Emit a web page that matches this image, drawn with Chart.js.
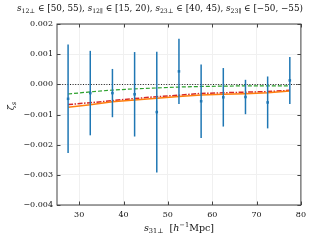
<!DOCTYPE html>
<html>
<head>
<meta charset="utf-8">
<script src="https://cdn.jsdelivr.net/npm/chart.js@4"></script>
<style>
  html, body { margin: 0; padding: 0; background: #fff; }
  #c { display: block; }
</style>
</head>
<body>
<canvas id="c" width="311" height="243"></canvas>
<script>
// bins in s_31perp
const sPerp = [27.5, 32.5, 37.5, 42.5, 47.5, 52.5, 57.5, 62.5, 67.5, 72.5, 77.5];
// measured zeta and 1-sigma errors
const zeta = [-0.00048, -0.00029, -0.00029, -0.00033, -0.00092, 0.00043, -0.00056, -0.00043, -0.00042, -0.0006, 0.00013];
const zetaErr = [0.0018, 0.0014, 0.0008, 0.0014, 0.002, 0.00108, 0.00122, 0.00097, 0.00057, 0.00086, 0.00078];
// model curves
const modelOrange = [-0.00076, -0.00068, -0.00058, -0.00052, -0.00046, -0.0004, -0.00035, -0.00033, -0.00031, -0.00028, -0.00022];
const modelRed = [-0.00067, -0.00061, -0.00054, -0.00047, -0.00041, -0.00036, -0.0003, -0.00028, -0.00026, -0.00024, -0.0002];
const modelGreen = [-0.00032, -0.00025, -0.00019, -0.00015, -0.00012, -0.00009, -0.00007, -0.00006, -0.00005, -0.00005, -0.00005];
const xTicks = [30, 40, 50, 60, 70, 80];
const yTicks = [-0.004, -0.003, -0.002, -0.001, 0, 0.001, 0.002];

const SERIF = '"DejaVu Serif", serif';
const pts = (ys) => sPerp.map((x, i) => ({ x: x, y: ys[i] }));

// draws a list of text runs, some italic, some sub/superscript
function drawRich(ctx, runs, x, y, size, align) {
    const font = (r) => (r.it ? 'italic ' : '') + (r.sub || r.sup ? size * 0.7 : size) + 'px ' + SERIF;
    let w = 0;
    runs.forEach(r => { ctx.font = font(r); w += ctx.measureText(r.t).width; });
    let cx = align === 'center' ? x - w / 2 : x;
    ctx.textBaseline = 'alphabetic';
    ctx.textAlign = 'left';
    runs.forEach(r => {
        ctx.font = font(r);
        let dy = r.sub ? size * 0.25 : (r.sup ? -size * 0.4 : 0);
        ctx.fillText(r.t, cx, y + dy);
        cx += ctx.measureText(r.t).width;
    });
}

const decor = {
    id: 'decor',
    beforeDatasetsDraw(chart) {
        const { ctx, chartArea: a, scales } = chart;
        ctx.save();
        // zero line
        ctx.strokeStyle = '#222';
        ctx.lineWidth = 1;
        ctx.setLineDash([1, 1.6]);
        const y0 = Math.round(scales.y.getPixelForValue(0)) + 0.5;
        ctx.beginPath(); ctx.moveTo(a.left, y0); ctx.lineTo(a.right, y0); ctx.stroke();
        ctx.restore();
    },
    afterDatasetsDraw(chart) {
        const { ctx, scales } = chart;
        ctx.save();
        ctx.strokeStyle = '#1f77b4';
        ctx.lineWidth = 1.5;
        sPerp.forEach((x, i) => {
            const px = scales.x.getPixelForValue(x);
            ctx.beginPath();
            ctx.moveTo(px, scales.y.getPixelForValue(zeta[i] + zetaErr[i]));
            ctx.lineTo(px, scales.y.getPixelForValue(zeta[i] - zetaErr[i]));
            ctx.stroke();
        });
        ctx.restore();
    },
    afterDraw(chart) {
        const { ctx, chartArea: a, scales } = chart;
        ctx.save();
        ctx.strokeStyle = '#444';
        ctx.lineWidth = 1;
        ctx.strokeRect(a.left, a.top, a.right - a.left, a.bottom - a.top);
        // inward ticks on all sides
        ctx.beginPath();
        xTicks.forEach(t => {
            const px = Math.round(scales.x.getPixelForValue(t)) + 0.5;
            ctx.moveTo(px, a.bottom); ctx.lineTo(px, a.bottom - 3.5);
            ctx.moveTo(px, a.top); ctx.lineTo(px, a.top + 3.5);
        });
        yTicks.forEach(t => {
            const py = Math.round(scales.y.getPixelForValue(t)) + 0.5;
            ctx.moveTo(a.left, py); ctx.lineTo(a.left + 3.5, py);
            ctx.moveTo(a.right, py); ctx.lineTo(a.right - 3.5, py);
        });
        ctx.stroke();

        ctx.fillStyle = '#111';
        // title
        drawRich(ctx, [
            { t: 's', it: true }, { t: '12\u22A5', sub: true }, { t: ' \u2208 [50, 55), ' },
            { t: 's', it: true }, { t: '12\u2225', sub: true }, { t: ' \u2208 [15, 20), ' },
            { t: 's', it: true }, { t: '23\u22A5', sub: true }, { t: ' \u2208 [40, 45), ' },
            { t: 's', it: true }, { t: '23\u2225', sub: true }, { t: ' \u2208 [\u221250, \u221255)' }
        ], 160, 11, 8.8, 'center');
        // x label
        drawRich(ctx, [
            { t: 's', it: true }, { t: '31\u22A5', sub: true }, { t: '  [' },
            { t: 'h', it: true }, { t: '\u22121', sup: true }, { t: 'Mpc]' }
        ], (a.left + a.right) / 2, 231, 9.5, 'center');
        // y label
        ctx.translate(14, 106);
        ctx.rotate(-Math.PI / 2);
        drawRich(ctx, [{ t: '\u03B6', it: true }, { t: 's', it: true, sub: true }], 0, 0, 9.5, 'center');
        ctx.restore();
    }
};

new Chart(document.getElementById('c'), {
    type: 'line',
    data: {
        datasets: [
            {
                label: 'model 1',
                data: pts(modelOrange),
                borderColor: '#ff7f0e',
                borderWidth: 1.5,
                pointRadius: 0,
                fill: false
            },
            {
                label: 'model 2',
                data: pts(modelRed),
                borderColor: '#d62728',
                borderWidth: 1.5,
                borderDash: [5, 1.5, 1.5, 1.5],
                pointRadius: 0,
                fill: false
            },
            {
                label: 'model 3',
                data: pts(modelGreen),
                borderColor: '#2ca02c',
                borderWidth: 1.2,
                borderDash: [4, 2],
                pointRadius: 0,
                fill: false
            },
            {
                label: 'data',
                data: pts(zeta),
                showLine: false,
                pointStyle: 'rect',
                pointRadius: 1.8,
                backgroundColor: '#1f77b4',
                borderColor: '#1f77b4',
                borderWidth: 0
            }
        ]
    },
    options: {
        responsive: false,
        animation: false,
        layout: { padding: { top: 24, right: 10, left: 0, bottom: 0 } },
        plugins: { legend: { display: false }, tooltip: { enabled: false } },
        scales: {
            x: {
                type: 'linear',
                min: 25,
                max: 80,
                afterBuildTicks: (s) => { s.ticks = xTicks.map(v => ({ value: v })); },
                afterFit: (s) => { s.height = 38; },
                grid: { color: '#f0f0f0', drawTicks: false },
                border: { display: false },
                ticks: {
                    padding: 5,
                    color: '#111',
                    font: { family: SERIF, size: 8 },
                    callback: (v) => String(v)
                }
            },
            y: {
                min: -0.004,
                max: 0.002,
                afterBuildTicks: (s) => { s.ticks = yTicks.map(v => ({ value: v })); },
                afterFit: (s) => { s.width = 57; },
                grid: { color: '#f0f0f0', drawTicks: false },
                border: { display: false },
                ticks: {
                    padding: 4,
                    color: '#111',
                    font: { family: SERIF, size: 8 },
                    callback: (v) => v.toFixed(3).replace('-', '\u2212')
                }
            }
        }
    },
    plugins: [decor]
});
</script>
</body>
</html>
